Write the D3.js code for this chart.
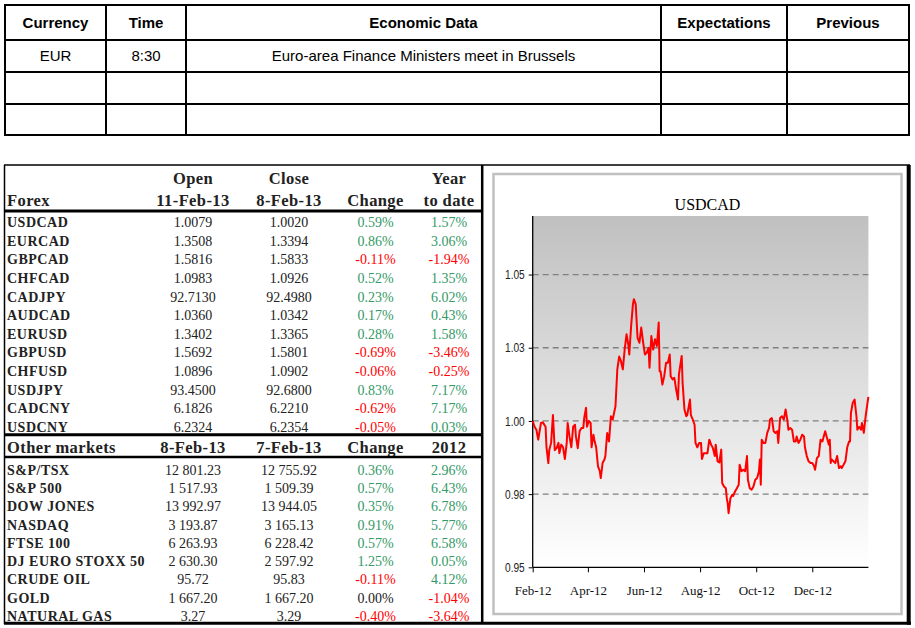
<!DOCTYPE html>
<html><head><meta charset="utf-8">
<script src="https://cdn.jsdelivr.net/npm/d3@7"></script>
<style>body{margin:0;background:#fff} svg{display:block}</style>
</head><body><svg id="c" width="915" height="628"></svg>
<script>
// ---------- DATA ----------
const calHeaders = ["Currency", "Time", "Economic Data", "Expectations", "Previous"];
const calRows = [
  ["EUR", "8:30", "Euro-area Finance Ministers meet in Brussels", "", ""],
  ["", "", "", "", ""],
  ["", "", "", "", ""]
];

const forexHeader1 = ["", "Open", "Close", "", "Year"];
const forexHeader2 = ["Forex", "11-Feb-13", "8-Feb-13", "Change", "to date"];
const forexNames = ["USDCAD","EURCAD","GBPCAD","CHFCAD","CADJPY","AUDCAD","EURUSD","GBPUSD","CHFUSD","USDJPY","CADCNY","USDCNY"];
const forexOpen  = [1.0079,1.3508,1.5816,1.0983,92.7130,1.0360,1.3402,1.5692,1.0896,93.4500,6.1826,6.2324];
const forexClose = [1.0020,1.3394,1.5833,1.0926,92.4980,1.0342,1.3365,1.5801,1.0902,92.6800,6.2210,6.2354];
const forexChange= [0.59,0.86,-0.11,0.52,0.23,0.17,0.28,-0.69,-0.06,0.83,-0.62,-0.05];
const forexYtd   = [1.57,3.06,-1.94,1.35,6.02,0.43,1.58,-3.46,-0.25,7.17,7.17,0.03];

const otherHeader = ["Other markets", "8-Feb-13", "7-Feb-13", "Change", "2012"];
const otherNames = ["S&P/TSX","S&P 500","DOW JONES","NASDAQ","FTSE 100","DJ EURO STOXX 50","CRUDE OIL","GOLD","NATURAL GAS"];
const otherOpen  = [12801.23,1517.93,13992.97,3193.87,6263.93,2630.30,95.72,1667.20,3.27];
const otherClose = [12755.92,1509.39,13944.05,3165.13,6228.42,2597.92,95.83,1667.20,3.29];
const otherChange= [0.36,0.57,0.35,0.91,0.57,1.25,-0.11,0.00,-0.40];
const other2012  = [2.96,6.43,6.78,5.77,6.58,0.05,4.12,-1.04,-3.64];

const chartTitle = "USDCAD";
const yTickValues = [0.95, 0.975, 1.0, 1.025, 1.05];
const yTickLabels = ["0.95", "0.98", "1.00", "1.03", "1.05"];
const xTickDates = ["2012-02-01","2012-04-01","2012-06-01","2012-08-01","2012-10-01","2012-12-01"];
const xTickLabels = ["Feb-12","Apr-12","Jun-12","Aug-12","Oct-12","Dec-12"];

const dates = ["2012-02-01","2012-02-03","2012-02-05","2012-02-07","2012-02-10","2012-02-12","2012-02-15","2012-02-16","2012-02-18","2012-02-19","2012-02-21","2012-02-23","2012-02-25","2012-02-27","2012-02-29",
"2012-03-01","2012-03-03","2012-03-05","2012-03-07","2012-03-09","2012-03-10","2012-03-12","2012-03-14","2012-03-16","2012-03-18","2012-03-19","2012-03-21","2012-03-23","2012-03-25","2012-03-27","2012-03-28","2012-03-30","2012-03-31",
"2012-04-02","2012-04-04","2012-04-05","2012-04-07","2012-04-08","2012-04-10","2012-04-12","2012-04-14","2012-04-15","2012-04-17","2012-04-19","2012-04-20","2012-04-22","2012-04-24","2012-04-26","2012-04-28","2012-04-29",
"2012-05-01","2012-05-03","2012-05-05","2012-05-07","2012-05-09","2012-05-11","2012-05-13","2012-05-15","2012-05-16","2012-05-18","2012-05-20","2012-05-21","2012-05-23","2012-05-25","2012-05-27","2012-05-29","2012-05-31",
"2012-06-02","2012-06-04","2012-06-06","2012-06-07","2012-06-09","2012-06-11","2012-06-13","2012-06-15","2012-06-17","2012-06-18","2012-06-19","2012-06-21","2012-06-23","2012-06-25","2012-06-27","2012-06-29","2012-06-30",
"2012-07-02","2012-07-04","2012-07-06","2012-07-08","2012-07-09","2012-07-12","2012-07-13","2012-07-15","2012-07-17","2012-07-18","2012-07-21","2012-07-22","2012-07-24","2012-07-26","2012-07-27","2012-07-29","2012-07-31",
"2012-08-02","2012-08-03","2012-08-05","2012-08-07","2012-08-09","2012-08-11","2012-08-13","2012-08-15","2012-08-17","2012-08-18","2012-08-20","2012-08-22","2012-08-24","2012-08-25","2012-08-27","2012-08-29","2012-08-30","2012-08-31",
"2012-09-01","2012-09-03","2012-09-05","2012-09-06","2012-09-08","2012-09-10","2012-09-12","2012-09-13","2012-09-15","2012-09-17","2012-09-19","2012-09-21","2012-09-22","2012-09-24","2012-09-26","2012-09-28","2012-09-30",
"2012-10-02","2012-10-04","2012-10-05","2012-10-06","2012-10-07","2012-10-09","2012-10-11","2012-10-13","2012-10-15","2012-10-16","2012-10-18","2012-10-20","2012-10-22","2012-10-24","2012-10-25","2012-10-27","2012-10-29","2012-10-31",
"2012-11-02","2012-11-04","2012-11-05","2012-11-07","2012-11-09","2012-11-11","2012-11-13","2012-11-14","2012-11-16","2012-11-18","2012-11-20","2012-11-22","2012-11-23","2012-11-25","2012-11-27","2012-11-29",
"2012-12-01","2012-12-03","2012-12-04","2012-12-06","2012-12-08","2012-12-10","2012-12-12","2012-12-13","2012-12-15","2012-12-17","2012-12-19","2012-12-20","2012-12-21","2012-12-22","2012-12-24","2012-12-26","2012-12-28","2012-12-30",
"2013-01-01","2013-01-02","2013-01-04","2013-01-06","2013-01-08","2013-01-10","2013-01-11","2013-01-12","2013-01-14","2013-01-16","2013-01-18","2013-01-19","2013-01-21","2013-01-23","2013-01-24","2013-01-26","2013-01-28","2013-01-30","2013-01-31"];
const usdcad = [1.0000,0.9980,0.9970,0.9936,0.9993,0.9995,0.9980,0.9910,0.9856,0.9900,0.9925,1.0020,0.9900,0.9907,0.9925,
0.9890,0.9919,0.9910,0.9870,0.9925,0.9993,0.9947,0.9910,0.9980,0.9987,0.9947,0.9907,0.9965,0.9976,0.9976,1.0010,1.0045,0.9980,
1.0000,0.9993,0.9910,0.9953,0.9936,0.9910,0.9845,0.9828,0.9805,0.9856,0.9868,0.9880,0.9959,0.9930,1.0016,1.0005,1.0020,
1.0050,1.0176,1.0220,1.0204,1.0176,1.0244,1.0296,1.0260,1.0227,1.0324,1.0399,1.0416,1.0399,1.0284,1.0267,1.0319,1.0270,
1.0227,1.0233,1.0250,1.0182,1.0290,1.0244,1.0279,1.0256,1.0336,1.0170,1.0170,1.0124,1.0153,1.0199,1.0199,1.0227,1.0153,
1.0142,1.0147,1.0107,1.0073,1.0159,1.0222,1.0130,1.0039,1.0016,1.0020,1.0073,1.0020,1.0005,0.9987,0.9925,0.9910,0.9925,
0.9925,0.9870,0.9890,0.9890,0.9890,0.9936,0.9919,0.9907,0.9880,0.9919,0.9862,0.9858,0.9902,0.9788,0.9776,0.9770,0.9736,0.9719,
0.9685,0.9736,0.9748,0.9744,0.9759,0.9770,0.9782,0.9850,0.9828,0.9833,0.9828,0.9880,0.9799,0.9770,0.9765,0.9776,0.9799,
0.9805,0.9828,0.9868,0.9782,0.9936,0.9925,0.9925,0.9959,0.9976,1.0005,1.0010,0.9965,0.9959,0.9965,0.9925,1.0010,1.0016,1.0005,
1.0039,0.9999,0.9970,0.9976,0.9970,0.9930,0.9930,0.9947,0.9925,0.9936,0.9953,0.9947,0.9910,0.9880,0.9862,0.9856,
0.9856,0.9845,0.9833,0.9873,0.9880,0.9936,0.9930,0.9942,0.9965,0.9942,0.9919,0.9936,0.9856,0.9868,0.9862,0.9856,0.9880,0.9839,
0.9845,0.9839,0.9850,0.9862,0.9910,0.9930,0.9930,1.0027,1.0062,1.0073,1.0016,0.9970,0.9980,0.9970,0.9993,0.9959,1.0016,1.0062,1.0082];

// ---------- DRAW ----------
const svg = d3.select("#c");
svg.append("rect").attr("width", 915).attr("height", 628).attr("fill", "#fff");

// Top calendar table
const calX = [5, 106, 186, 661, 787, 909];
const calY = [5, 40, 72, 104, 135];
const cal = svg.append("g").attr("font-family", "Liberation Sans, Arial, sans-serif").attr("font-size", 15);
calY.forEach(y => cal.append("line").attr("x1", calX[0] - 1).attr("x2", calX[5] + 1).attr("y1", y).attr("y2", y).attr("stroke", "#000").attr("stroke-width", 2));
calX.forEach(x => cal.append("line").attr("x1", x).attr("x2", x).attr("y1", calY[0]).attr("y2", calY[4]).attr("stroke", "#000").attr("stroke-width", 2));
calHeaders.forEach((h, i) => cal.append("text").attr("x", (calX[i] + calX[i + 1]) / 2).attr("y", (calY[0] + calY[1]) / 2 + 5.3)
  .attr("text-anchor", "middle").attr("font-weight", "bold").text(h));
calRows.forEach((r, ri) => r.forEach((c, ci) => {
  if (!c) return;
  cal.append("text").attr("x", (calX[ci] + calX[ci + 1]) / 2).attr("y", (calY[ri + 1] + calY[ri + 2]) / 2 + 5.3)
    .attr("text-anchor", "middle").text(c);
}));

// Left market table
const tbl = svg.append("g").attr("font-family", "Liberation Serif, 'Times New Roman', serif");
const colC = [193, 289, 375.5, 449];
const green = "#339966", red = "#ff0000";
const pct = v => v.toFixed(2) + "%";
const pctColor = v => v > 0 ? green : (v < 0 ? red : "#222");
const loc = d3.formatLocale({decimal: ".", thousands: " ", grouping: [3], currency: ["", ""]});
const fmtOther = loc.format(",.2f");
const fmtFx = d3.format(".4f");

function hdrText(x, y, t, anchor) {
  tbl.append("text").attr("x", x).attr("y", y).attr("text-anchor", anchor).attr("font-size", 16.5)
    .attr("font-weight", "bold").attr("fill", "#222").attr("letter-spacing", 0.4).text(t);
}
forexHeader1.forEach((t, i) => { if (t) hdrText(colC[i - 1], 183.8, t, "middle"); });
forexHeader2.forEach((t, i) => { if (i === 0) hdrText(7, 206.3, t, "start"); else hdrText(colC[i - 1], 206.3, t, "middle"); });
otherHeader.forEach((t, i) => { if (i === 0) hdrText(7, 453.3, t, "start"); else hdrText(colC[i - 1], 453.3, t, "middle"); });

function row(yc, name, vals, fmt, chg, ytd) {
  const y = yc + 4.8;
  tbl.append("text").attr("x", 7).attr("y", y).attr("font-size", 14).attr("font-weight", "bold").attr("fill", "#222").attr("letter-spacing", 0.5).text(name);
  tbl.append("text").attr("x", colC[0]).attr("y", y).attr("font-size", 14).attr("text-anchor", "middle").attr("fill", "#222").text(fmt(vals[0]));
  tbl.append("text").attr("x", colC[1]).attr("y", y).attr("font-size", 14).attr("text-anchor", "middle").attr("fill", "#222").text(fmt(vals[1]));
  tbl.append("text").attr("x", colC[2]).attr("y", y).attr("font-size", 14).attr("text-anchor", "middle").attr("fill", pctColor(chg)).text(pct(chg));
  tbl.append("text").attr("x", colC[3]).attr("y", y).attr("font-size", 14).attr("text-anchor", "middle").attr("fill", pctColor(ytd)).text(pct(ytd));
}
forexNames.forEach((n, i) => row(222.3 + i * 18.6, n, [forexOpen[i], forexClose[i]], fmtFx, forexChange[i], forexYtd[i]));
otherNames.forEach((n, i) => row(470 + i * 18.25, n, [otherOpen[i], otherClose[i]], fmtOther, otherChange[i], other2012[i]));

// table frame lines
const L = (x1, y1, x2, y2, w) => svg.append("line").attr("x1", x1).attr("y1", y1).attr("x2", x2).attr("y2", y2).attr("stroke", "#000").attr("stroke-width", w);
L(4, 165, 910, 165, 1.5);
L(4.5, 165, 4.5, 624, 1.5);
L(4, 211, 482, 211, 3);
L(4, 434.7, 482, 434.7, 3);
L(4, 456.9, 482, 456.9, 2.5);
L(4, 623.3, 911, 623.3, 3);
L(482.2, 165, 482.2, 624, 2.5);
L(908.7, 165, 908.7, 624.8, 4);

// Chart panel
svg.append("rect").attr("x", 493.5).attr("y", 174).attr("width", 408).attr("height", 440)
  .attr("fill", "#fff").attr("stroke", "#c0c0c0").attr("stroke-width", 2.5);

const pl = 532.7, pr = 868.4, pt = 216, pb = 567.3;
const parse = d3.timeParse("%Y-%m-%d");
const x = d3.scaleTime().domain([parse("2012-02-01"), parse("2013-01-31")]).range([pl, pr]);
const y = d3.scaleLinear().domain([0.95, 1.07]).range([pb, pt]);

const defs = svg.append("defs");
const grad = defs.append("linearGradient").attr("id", "bg").attr("x1", 0).attr("y1", 0).attr("x2", 0).attr("y2", 1);
grad.append("stop").attr("offset", "0%").attr("stop-color", "#c0c0c0");
grad.append("stop").attr("offset", "100%").attr("stop-color", "#ffffff");
svg.append("rect").attr("x", pl).attr("y", pt).attr("width", pr - pl).attr("height", pb - pt).attr("fill", "url(#bg)");

// gridlines
svg.append("g").selectAll("line").data(yTickValues.slice(1)).join("line")
  .attr("x1", pl).attr("x2", pr).attr("y1", d => y(d)).attr("y2", d => y(d))
  .attr("stroke", "#808080").attr("stroke-width", 1.3).attr("stroke-dasharray", "6,4");

// title
svg.append("text").attr("x", 707.5).attr("y", 209.5).attr("text-anchor", "middle")
  .attr("font-family", "Liberation Serif, 'Times New Roman', serif").attr("font-size", 16).attr("fill", "#000").text(chartTitle);

// axes
const yAxis = d3.axisLeft(y).tickValues(yTickValues).tickSize(4).tickPadding(4)
  .tickFormat((d, i) => yTickLabels[i]);
const gy = svg.append("g").attr("transform", `translate(${pl},0)`).call(yAxis);
gy.select(".domain").attr("d", `M0,${pt}V${pb}`).attr("stroke", "#000").attr("stroke-width", 1.3);
gy.selectAll(".tick line").attr("stroke", "#000");
gy.selectAll("text").attr("font-family", "Liberation Sans, Arial, sans-serif").attr("font-size", 13).attr("fill", "#222")
  .attr("transform", "scale(0.78,1)").attr("x", -8 / 0.78);

const xAxis = d3.axisBottom(x).tickValues(xTickDates.map(parse)).tickSize(5).tickPadding(13)
  .tickFormat((d, i) => xTickLabels[i]);
const gx = svg.append("g").attr("transform", `translate(0,${pb})`).call(xAxis);
gx.select(".domain").attr("d", `M${pl},0H${pr}`).attr("stroke", "#000").attr("stroke-width", 1.3);
gx.selectAll(".tick line").attr("stroke", "#000");
gx.selectAll("text").attr("font-family", "Liberation Serif, 'Times New Roman', serif").attr("font-size", 13).attr("fill", "#111");

// line
const pts = dates.map((d, i) => ({d: parse(d), v: usdcad[i]}));
svg.append("path").datum(pts).attr("fill", "none").attr("stroke", "#ff0000").attr("stroke-width", 2)
  .attr("stroke-linejoin", "round")
  .attr("d", d3.line().x(p => x(p.d)).y(p => y(p.v)));
</script>
</body></html>
